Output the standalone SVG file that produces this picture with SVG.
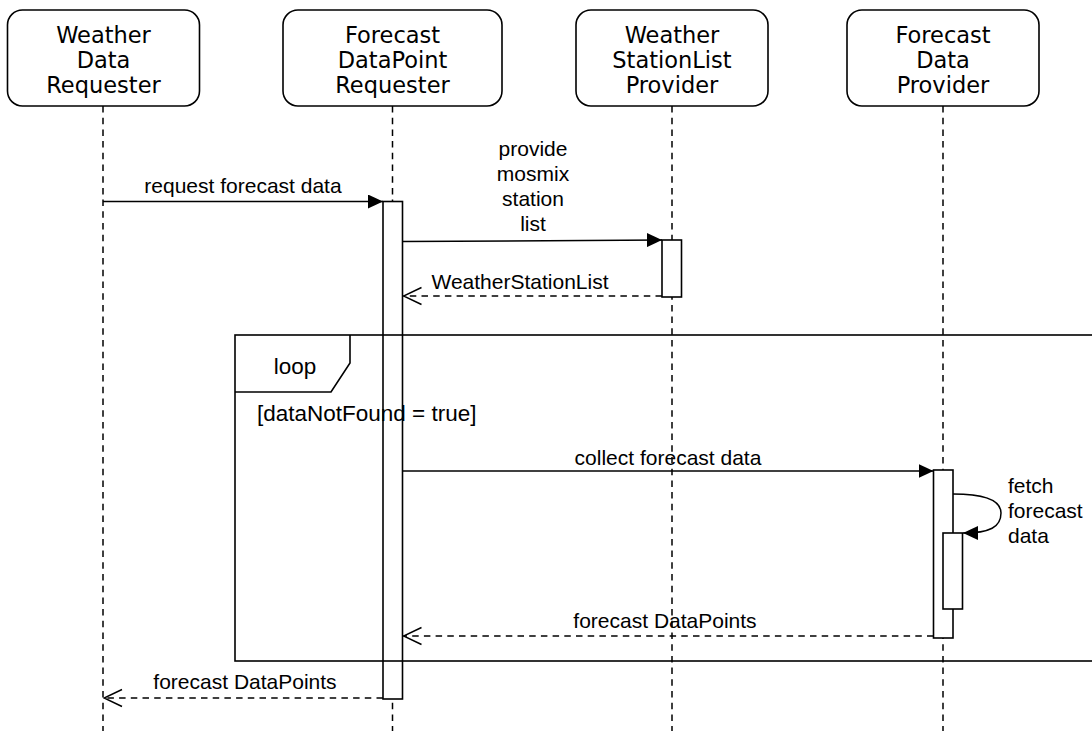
<svg xmlns="http://www.w3.org/2000/svg" width="1092" height="731" viewBox="0 0 1092 731">
  <defs>
    <marker id="solid" viewBox="0 0 15 14" refX="15" refY="7" markerWidth="15" markerHeight="14" markerUnits="userSpaceOnUse" orient="auto">
      <path d="M0,0 L15,7 L0,14 Z" fill="#000"/>
    </marker>
    <marker id="open" viewBox="0 0 20 20" refX="19" refY="10" markerWidth="20" markerHeight="20" markerUnits="userSpaceOnUse" orient="auto">
      <path d="M1,1.5 L19,10 L1,18.5" fill="none" stroke="#000" stroke-width="1.5"/>
    </marker>
  </defs>
  <style>
    .box { fill: #fff; stroke: #000; stroke-width: 1.6; }
    .life { stroke: #000; stroke-width: 1.5; stroke-dasharray: 6.5 5.2; fill: none; }
    .bar { fill: #fff; stroke: #000; stroke-width: 1.6; }
    .msg { stroke: #000; stroke-width: 1.5; fill: none; }
    .ret { stroke: #000; stroke-width: 1.5; stroke-dasharray: 6.5 5.2; fill: none; }
    .frame { fill: none; stroke: #000; stroke-width: 1.6; }
    .pname { font-family: "DejaVu Sans", Verdana, sans-serif; font-size: 22.5px; text-anchor: middle; fill: #000; }
    .lbl { font-family: "Liberation Sans", Arial, Helvetica, sans-serif; font-size: 21px; fill: #000; }
    .mid { text-anchor: middle; }
    .flbl { font-family: "Liberation Sans", Arial, Helvetica, sans-serif; font-size: 22.5px; fill: #000; }
  </style>

  <!-- lifelines -->
  <g id="lifelines">
    <line class="life" x1="103" y1="106" x2="103" y2="731"/>
    <line class="life" x1="392.5" y1="106" x2="392.5" y2="731"/>
    <line class="life" x1="672" y1="106" x2="672" y2="731"/>
    <line class="life" x1="943" y1="106" x2="943" y2="731"/>
  </g>

  <!-- participants -->
  <g id="weather-data-requester">
    <rect class="box" x="7.5" y="10" width="192" height="96" rx="15"/>
    <text class="pname" x="103.5" y="43">Weather</text>
    <text class="pname" x="103.5" y="68">Data</text>
    <text class="pname" x="103.5" y="93">Requester</text>
  </g>
  <g id="forecast-datapoint-requester">
    <rect class="box" x="283" y="10" width="219" height="96" rx="15"/>
    <text class="pname" x="392.5" y="43">Forecast</text>
    <text class="pname" x="392.5" y="68">DataPoint</text>
    <text class="pname" x="392.5" y="93">Requester</text>
  </g>
  <g id="weather-stationlist-provider">
    <rect class="box" x="576" y="10" width="192" height="96" rx="15"/>
    <text class="pname" x="672" y="43">Weather</text>
    <text class="pname" x="672" y="68">StationList</text>
    <text class="pname" x="672" y="93">Provider</text>
  </g>
  <g id="forecast-data-provider">
    <rect class="box" x="847" y="10" width="192" height="96" rx="15"/>
    <text class="pname" x="943" y="43">Forecast</text>
    <text class="pname" x="943" y="68">Data</text>
    <text class="pname" x="943" y="93">Provider</text>
  </g>

  <!-- activation bars -->
  <g id="activations">
    <rect id="act-requester" class="bar" x="383" y="201.5" width="19.5" height="497.5"/>
    <rect id="act-stationlist" class="bar" x="662" y="240" width="19.5" height="57"/>
    <rect id="act-provider" class="bar" x="933.5" y="470" width="19.5" height="168"/>
    <rect id="act-fetch" class="bar" x="943" y="533" width="19.5" height="76"/>
  </g>

  <!-- combined fragment -->
  <g id="loop-fragment">
    <rect class="frame" x="235" y="335" width="870" height="326"/>
    <path class="frame" d="M235,392 L331,392 L350,363 L350,335"/>
    <text class="flbl mid" x="295" y="374">loop</text>
    <text class="flbl" x="257" y="421">[dataNotFound = true]</text>
  </g>

  <!-- messages -->
  <g id="connectors">
    <line class="msg" x1="103" y1="201.5" x2="383" y2="201.5" marker-end="url(#solid)"/>
    <line class="msg" x1="402.5" y1="241.5" x2="662" y2="240" marker-end="url(#solid)"/>
    <line class="ret" x1="662" y1="296" x2="403.5" y2="296" marker-end="url(#open)"/>
    <line class="msg" x1="402.5" y1="471" x2="933.5" y2="471" marker-end="url(#solid)"/>
    <path class="msg" d="M953,494 C985,494 1001,500 1001,513 C1001,527 990,533 963,533" marker-end="url(#solid)"/>
    <line class="ret" x1="933.5" y1="636" x2="403.5" y2="636" marker-end="url(#open)"/>
    <line class="ret" x1="383" y1="698" x2="104" y2="698" marker-end="url(#open)"/>
  </g>

  <!-- message labels -->
  <g id="labels">
    <text class="lbl mid" x="243" y="193">request forecast data</text>
    <text class="lbl mid" x="533" y="156">provide</text>
    <text class="lbl mid" x="533" y="181">mosmix</text>
    <text class="lbl mid" x="533" y="206">station</text>
    <text class="lbl mid" x="533" y="231">list</text>
    <text class="lbl mid" x="520" y="289">WeatherStationList</text>
    <text class="lbl mid" x="668" y="465">collect forecast data</text>
    <text class="lbl" x="1008" y="493">fetch</text>
    <text class="lbl" x="1008" y="518">forecast</text>
    <text class="lbl" x="1008" y="543">data</text>
    <text class="lbl mid" x="665" y="628">forecast DataPoints</text>
    <text class="lbl mid" x="245" y="689">forecast DataPoints</text>
  </g>
</svg>
